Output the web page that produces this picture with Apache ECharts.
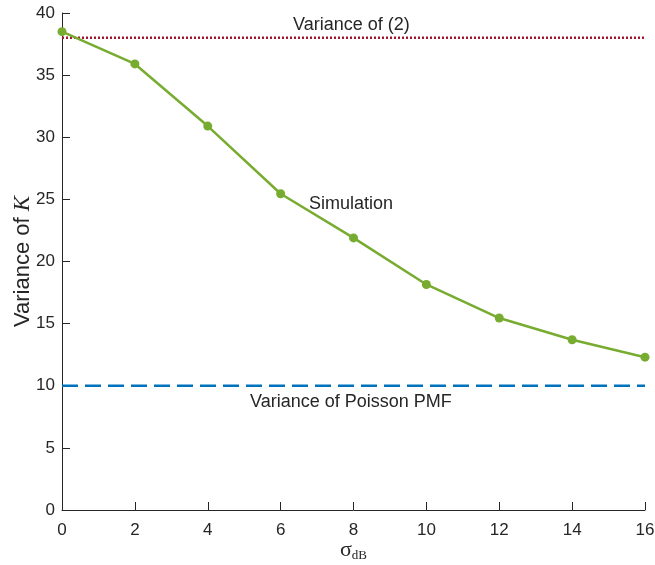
<!DOCTYPE html>
<html>
<head>
<meta charset="utf-8">
<script src="https://cdn.jsdelivr.net/npm/echarts@6/dist/echarts.min.js"></script>
<style>html,body{margin:0;padding:0;background:#fff}#c{width:655px;height:565px}</style>
</head>
<body>
<div id="c"></div>
<script>
const sigmaDB = [0, 2, 4, 6, 8, 10, 12, 14, 16];
const simulation = [38.5, 35.9, 30.9, 25.45, 21.9, 18.15, 15.45, 13.7, 12.3];
const varianceEq2 = 38;
const variancePoisson = 10;
const xTicks = [0, 2, 4, 6, 8, 10, 12, 14, 16];
const yTicks = [0, 5, 10, 15, 20, 25, 30, 35, 40];

const chart = echarts.init(document.getElementById('c'));
const font = 'Liberation Sans, Arial, sans-serif';
chart.setOption({
  animation: false,
  grid: {left: 62, right: 10, top: 13, bottom: 55, containLabel: false, outerBoundsMode: 'none'},
  xAxis: {
    type: 'value', min: 0, max: 16, interval: 2,
    axisLine: {lineStyle: {color: '#262626', width: 1}},
    axisTick: {inside: true, length: 8, lineStyle: {color: '#262626'}},
    axisLabel: {color: '#262626', fontSize: 17, fontFamily: font, margin: 12},
    splitLine: {show: false},
    name: '{s|σ}{sub|dB}', nameLocation: 'middle', nameGap: 29, nameMoveOverlap: false,
    nameTextStyle: {rich: {
      s: {fontFamily: 'Liberation Serif, serif', fontSize: 22, color: '#262626'},
      sub: {fontFamily: 'Liberation Serif, serif', fontSize: 13, color: '#262626', padding: [10, 0, 0, 0]}
    }}
  },
  yAxis: {
    type: 'value', min: 0, max: 40, interval: 5,
    axisLine: {show: true, lineStyle: {color: '#262626', width: 1}},
    axisTick: {show: true, inside: true, length: 8, lineStyle: {color: '#262626'}},
    axisLabel: {color: '#262626', fontSize: 17, fontFamily: font, margin: 7},
    splitLine: {show: false},
    name: 'Variance of {i|K}', nameLocation: 'middle', nameGap: 28, nameMoveOverlap: false,
    nameTextStyle: {color: '#262626', fontSize: 22, fontFamily: font, rich: {
      i: {fontStyle: 'italic', fontFamily: 'Liberation Serif, serif', fontSize: 23, color: '#262626'}
    }}
  },
  series: [
    {
      type: 'line', data: sigmaDB.map((x) => [x, varianceEq2]),
      symbol: 'none', lineStyle: {color: '#A2142F', width: 2.5, type: [2, 2]}, z: 1
    },
    {
      type: 'line', data: sigmaDB.map((x) => [x, variancePoisson]),
      symbol: 'none', lineStyle: {color: '#0072BD', width: 2.5, type: [16, 7]}, z: 1
    },
    {
      type: 'line', data: sigmaDB.map((x, i) => [x, simulation[i]]),
      symbol: 'circle', symbolSize: 9, showSymbol: true,
      itemStyle: {color: '#77AC30'},
      lineStyle: {color: '#77AC30', width: 2.5}, z: 3
    }
  ],
  graphic: [
    {type: 'text', left: 293, top: 16, style: {text: 'Variance of (2)', font: '18px ' + font, fill: '#262626'}},
    {type: 'text', left: 309, top: 195, style: {text: 'Simulation', font: '18px ' + font, fill: '#262626'}},
    {type: 'text', left: 250, top: 393, style: {text: 'Variance of Poisson PMF', font: '18px ' + font, fill: '#262626'}}
  ]
});
</script>
</body>
</html>
